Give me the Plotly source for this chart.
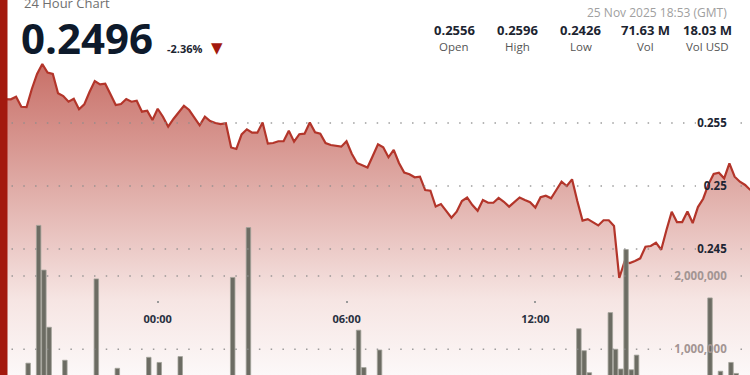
import plotly.graph_objects as go
import pandas as pd

# ---------------- data ----------------
start_time = "2025-11-24 18:50"
price = [
    0.2569, 0.2569, 0.2569, 0.25688, 0.25709, 0.25629, 0.25627, 0.2577, 0.25889, 0.25968,
    0.25901, 0.25889, 0.25736, 0.25714, 0.25669, 0.25693, 0.25609, 0.25648, 0.25746, 0.25833,
    0.25806, 0.25812, 0.25728, 0.25643, 0.25651, 0.2569, 0.25669, 0.25677, 0.2559, 0.25598,
    0.25524, 0.25613, 0.2555, 0.25471, 0.25532, 0.25587, 0.25637, 0.25603, 0.25544, 0.25482,
    0.2555, 0.25516, 0.255, 0.25492, 0.25498, 0.25306, 0.25294, 0.2541, 0.2545, 0.25423,
    0.25423, 0.25504, 0.25336, 0.25341, 0.25355, 0.25355, 0.25439, 0.25352, 0.25411, 0.25415,
    0.25504, 0.25426, 0.25415, 0.25341, 0.25325, 0.25317, 0.25312, 0.25355, 0.25256, 0.25183,
    0.25163, 0.25147, 0.25238, 0.25331, 0.25307, 0.25228, 0.25286, 0.25183, 0.25106, 0.25093,
    0.25069, 0.25074, 0.24968, 0.24963, 0.24837, 0.24857, 0.24802, 0.24748, 0.24796, 0.24881,
    0.24909, 0.24849, 0.24804, 0.24889, 0.24867, 0.24867, 0.24905, 0.24875, 0.24836, 0.24873,
    0.24909, 0.24889, 0.24871, 0.24829, 0.24911, 0.24923, 0.24902, 0.24968, 0.25034, 0.25,
    0.25053, 0.24881, 0.24725, 0.24737, 0.2471, 0.24687, 0.24728, 0.24728, 0.24683, 0.2427,
    0.24399, 0.24389, 0.24405, 0.24426, 0.24518, 0.24524, 0.2455, 0.24494, 0.24651, 0.24795,
    0.24714, 0.24714, 0.24797, 0.24706, 0.24833, 0.24899, 0.25013, 0.25095, 0.25106, 0.25061,
    0.2518, 0.25074, 0.25034, 0.25008, 0.24968,
]

bar_times = [
    "2025-11-24 19:50", "2025-11-24 20:10", "2025-11-24 20:20", "2025-11-24 20:30",
    "2025-11-24 21:00", "2025-11-24 22:00", "2025-11-24 22:40", "2025-11-24 23:40",
    "2025-11-25 00:00", "2025-11-25 00:40", "2025-11-25 02:20", "2025-11-25 02:50",
    "2025-11-25 06:20", "2025-11-25 06:30", "2025-11-25 07:00", "2025-11-25 13:20",
    "2025-11-25 13:30", "2025-11-25 13:40", "2025-11-25 14:20", "2025-11-25 14:30",
    "2025-11-25 14:40", "2025-11-25 14:50", "2025-11-25 15:00", "2025-11-25 15:10",
    "2025-11-25 17:30", "2025-11-25 17:50", "2025-11-25 18:10", "2025-11-25 18:20",
]
bar_volume = [
    0.81e6, 2.69e6, 2.08e6, 1.30e6,
    0.85e6, 1.96e6, 0.74e6, 0.89e6,
    0.82e6, 0.90e6, 1.98e6, 2.66e6,
    1.26e6, 0.75e6, 0.99e6, 1.28e6,
    0.98e6, 0.68e6, 1.50e6, 1.00e6,
    0.73e6, 2.36e6, 0.72e6, 0.92e6,
    1.70e6, 0.70e6, 0.82e6, 0.67e6,
]

x_tick_vals = ["2025-11-25 00:00", "2025-11-25 06:00", "2025-11-25 12:00", "2025-11-25 18:00"]
x_tick_text = ["00:00", "06:00", "12:00", "18:00"]
price_ticks = [0.245, 0.25, 0.255]
price_tick_text = ["0.245", "0.25", "0.255"]
vol_ticks = [1_000_000, 2_000_000]
vol_tick_text = ["1,000,000", "2,000,000"]

title_text = "24 Hour Chart"
last_price = "0.2496"
change_text = "-2.36%"
timestamp_text = "25 Nov 2025 18:53 (GMT)"
stat_values = ["0.2556", "0.2596", "0.2426", "71.63 M", "18.03 M"]
stat_labels = ["Open", "High", "Low", "Vol", "Vol USD"]

# ---------------- figure ----------------
W, H = 750, 375
FONT = "Open Sans"
RED = "#b3352a"

times = pd.date_range(start_time, periods=len(price), freq="10min")
bar_x = pd.to_datetime(bar_times) + pd.Timedelta(minutes=3)

fig = go.Figure()
fig.add_trace(go.Scatter(
    x=times, y=price, mode="lines",
    line=dict(color=RED, width=2.2),
    fill="tozeroy",
    fillgradient=dict(
        type="vertical", start=0.235, stop=0.2596,
        colorscale=[[0.0, "rgb(252,248,248)"], [0.242, "rgb(246,229,227)"],
                    [0.597, "rgb(224,173,168)"], [0.887, "rgb(207,129,122)"],
                    [1.0, "rgb(200,112,104)"]],
    ),
    hoverinfo="skip", yaxis="y",
))
fig.add_trace(go.Bar(
    x=bar_x, y=bar_volume, yaxis="y2",
    width=8.6 * 60 * 1000,
    marker=dict(color="#6c6c63", line=dict(color="#a3a39a", width=0.8)),
    hoverinfo="skip",
))

def px_x(p):
    return p / W

shapes = [dict(type="rect", xref="paper", yref="paper", x0=0, x1=px_x(7.5), y0=0, y1=1,
               fillcolor="#a3190e", line=dict(width=0), layer="above")]
grid_style = dict(color="rgba(140,140,140,0.85)", width=1.5, dash="1.5px,10.28px")
for v in price_ticks:
    for a, b in [(11.5, 696), (740.5, 750)]:
        shapes.append(dict(type="line", xref="paper", yref="y", x0=px_x(a), x1=px_x(b),
                           y0=v, y1=v, line=grid_style, layer="above"))
for v in vol_ticks:
    for a, b in [(11.5, 672), (740.5, 750)]:
        shapes.append(dict(type="line", xref="paper", yref="y2", x0=px_x(a), x1=px_x(b),
                           y0=v, y1=v, line=grid_style, layer="above"))

def py(p):
    return 1 - p / H

ann = [
    dict(text=title_text, x=px_x(22), y=py(2.5), xanchor="left", yanchor="middle",
         font=dict(size=13, color="#6f6f6f", family=FONT)),
    dict(text="<b>" + last_price + "</b>", x=px_x(19), y=py(38), xanchor="left", yanchor="middle",
         font=dict(size=42, color="#0e1a2b", family=FONT)),
    dict(text="<b>" + change_text + "</b>", x=px_x(165), y=py(48), xanchor="left", yanchor="middle",
         font=dict(size=11, color="#1c2430", family=FONT)),
    dict(text="▼", x=px_x(216.5), y=py(47.5), xanchor="center", yanchor="middle",
         font=dict(size=15, color="#a3190e", family="DejaVu Sans")),
    dict(text=timestamp_text, x=px_x(729), y=py(13), xanchor="right", yanchor="middle",
         font=dict(size=12, color="#a0a0a0", family=FONT)),
]
stat_x = [454.3, 517.7, 580.7, 645, 707.7]
for sx, v, lab in zip(stat_x, stat_values, stat_labels):
    ann.append(dict(text="<b>" + v + "</b>", x=px_x(sx), y=py(30), xanchor="center", yanchor="middle",
                    font=dict(size=13, color="#1c2430", family=FONT)))
    ann.append(dict(text=lab, x=px_x(sx), y=py(46.5), xanchor="center", yanchor="middle",
                    font=dict(size=11.5, color="#555555", family=FONT)))
for a in ann:
    a.update(xref="paper", yref="paper", showarrow=False)

fig.update_layout(
    width=W, height=H, margin=dict(l=0, r=0, t=0, b=0, pad=0),
    paper_bgcolor="white", plot_bgcolor="white", showlegend=False,
    font=dict(family=FONT),
    xaxis=dict(type="date", range=["2025-11-24 18:59:20", "2025-11-25 18:49:16"],
               anchor="free", position=0.2, showgrid=False, zeroline=False, showline=False,
               ticks="outside", ticklen=2, tickwidth=1.5, tickcolor="#9a9a9a",
               tickvals=x_tick_vals, ticktext=x_tick_text, ticklabelstandoff=7,
               tickfont=dict(size=11, color="#283040", family=FONT, weight="bold"),
               layer="above traces"),
    yaxis=dict(range=[0.235, 0.264762], domain=[0, 1], side="right", anchor="free",
               position=0.973, showgrid=False, zeroline=False, showline=False, ticks="",
               tickvals=price_ticks, ticktext=price_tick_text, ticklabelposition="inside",
               tickfont=dict(size=11.5, color="#1d2533", family=FONT, weight="bold"),
               layer="above traces"),
    yaxis2=dict(range=[648600, 5765000], overlaying="y", side="right", anchor="free",
                position=0.973, showgrid=False, zeroline=False, showline=False, ticks="",
                tickvals=vol_ticks, ticktext=vol_tick_text, ticklabelposition="inside",
                tickfont=dict(size=11.5, color="#a39593", family=FONT, weight="bold"),
                layer="above traces"),
    shapes=shapes, annotations=ann,
)

fig.write_html("out.html")
